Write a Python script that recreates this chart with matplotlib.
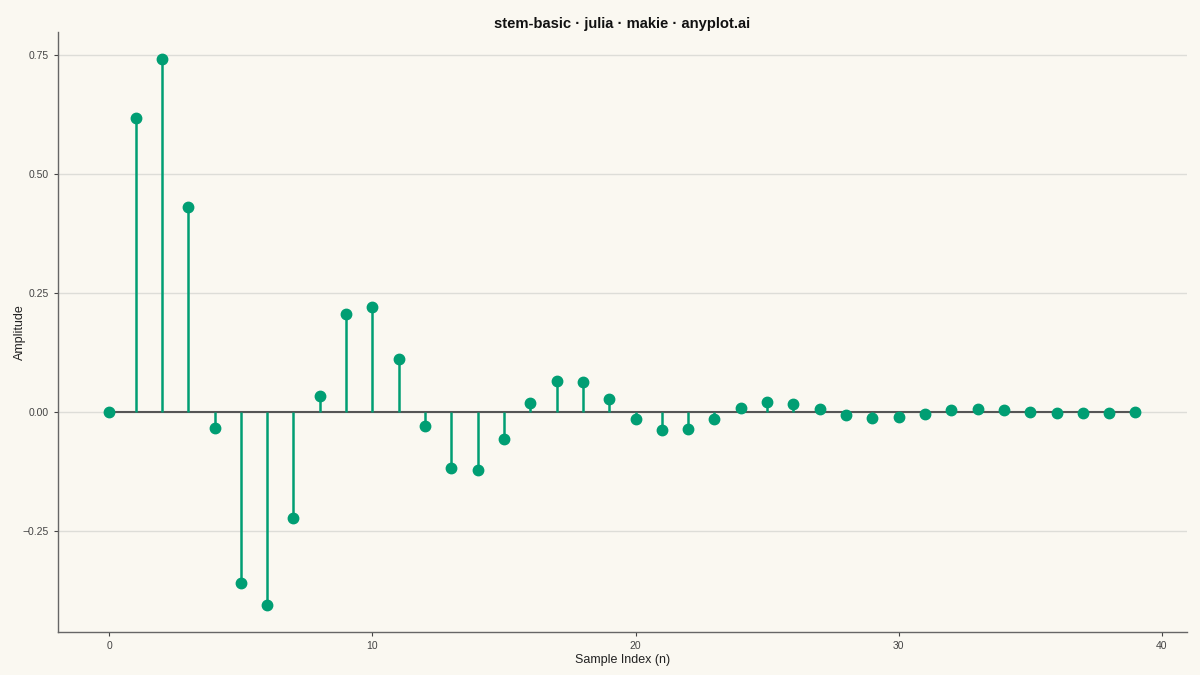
import matplotlib.pyplot as plt

plt.rcParams["font.family"] = ["Liberation Sans", "DejaVu Sans"]

sample_index = list(range(40))
amplitude = [
    0.0, 0.618, 0.742, 0.431, -0.034, -0.359, -0.405, -0.223, 0.034, 0.206,
    0.221, 0.111, -0.029, -0.118, -0.122, -0.057, 0.019, 0.065, 0.063, 0.027,
    -0.015, -0.038, -0.036, -0.015, 0.008, 0.021, 0.017, 0.006, -0.006, -0.013,
    -0.011, -0.004, 0.004, 0.006, 0.004, 0.0, -0.002, -0.003, -0.002, 0.0,
]
y_ticks = [-0.25, 0.0, 0.25, 0.5, 0.75]
y_tick_labels = ["\u22120.25", "0.00", "0.25", "0.50", "0.75"]
x_ticks = [0, 10, 20, 30, 40]

bg = "#FAF8F1"
green = "#009E73"

fig = plt.figure(figsize=(12, 6.75), dpi=100, facecolor=bg)
ax = fig.add_axes([0.0483, 0.0637, 0.9407, 0.889])
ax.set_facecolor(bg)

for t in y_ticks:
    ax.axhline(t, color="#DDDDD8", lw=1, zorder=0)

# baseline of the stems
ax.plot([sample_index[0], sample_index[-1]], [0, 0], color="#555555", lw=1.5, zorder=1)
ax.vlines(sample_index, 0, amplitude, color=green, lw=1.8, zorder=2)
ax.plot(sample_index, amplitude, "o", color=green, markersize=7.5, zorder=3)

ax.set_xlim(-1.95, 40.95)
ax.set_ylim(-0.462, 0.798)
ax.set_xticks(x_ticks)
ax.set_yticks(y_ticks)
ax.set_yticklabels(y_tick_labels)

for s in ["top", "right"]:
    ax.spines[s].set_visible(False)
for s in ["left", "bottom"]:
    ax.spines[s].set_color("#666666")
    ax.spines[s].set_linewidth(1)

ax.tick_params(colors="#444444", labelsize=7.5, length=3, width=0.8)
ax.set_xlabel("Sample Index (n)", fontsize=9, color="#222222", labelpad=2)
ax.set_ylabel("Amplitude", fontsize=9, color="#222222")
ax.yaxis.set_label_coords(-0.028, 0.5)
ax.set_title("stem-basic · julia · makie · anyplot.ai", fontsize=10.6, fontweight="bold",
             color="#111111", pad=3)

fig.savefig("out.png", dpi=100, facecolor=bg)
